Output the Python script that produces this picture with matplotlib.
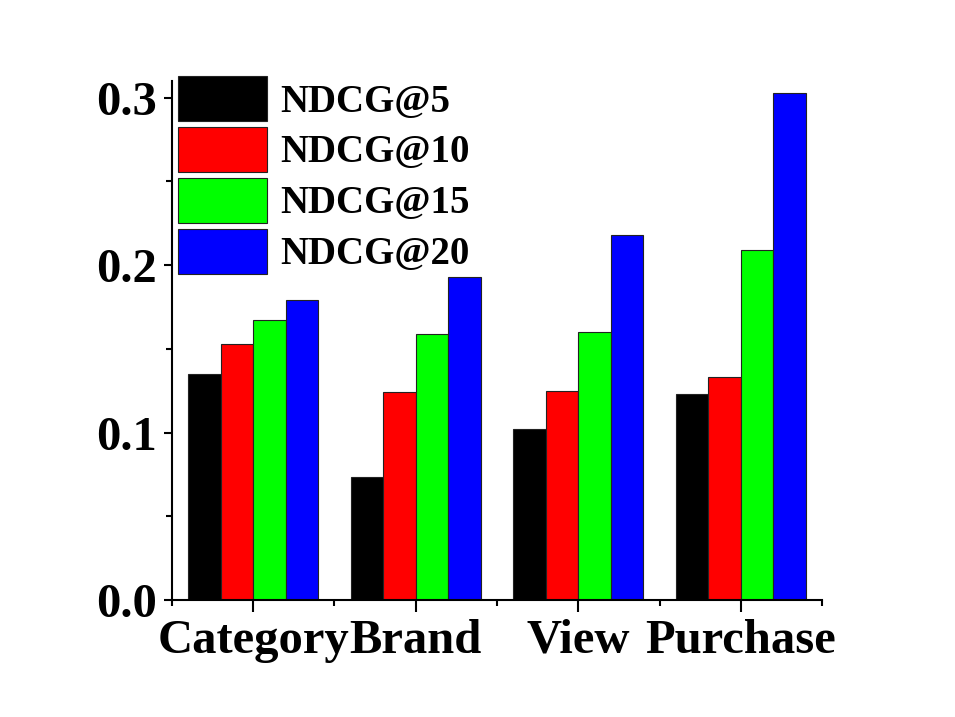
import matplotlib
matplotlib.use("Agg")
import matplotlib.pyplot as plt
from matplotlib.ticker import MultipleLocator, FixedLocator, FormatStrFormatter
import numpy as np

categories = ["Category", "Brand", "View", "Purchase"]
series_names = ["NDCG@5", "NDCG@10", "NDCG@15", "NDCG@20"]
ndcg5 = [0.135, 0.0735, 0.102, 0.123]
ndcg10 = [0.153, 0.124, 0.125, 0.133]
ndcg15 = [0.167, 0.159, 0.160, 0.209]
ndcg20 = [0.179, 0.193, 0.218, 0.303]
colors = ["#000000", "#ff0000", "#00ff00", "#0000ff"]

plt.rcParams['font.family'] = ['Liberation Serif', 'DejaVu Serif']
plt.rcParams['font.weight'] = 'bold'

fig = plt.figure(figsize=(9.55, 7.17), dpi=100)
ax = fig.add_axes([0.180, 0.163, 0.681, 0.724])

x = np.arange(len(categories))
w = 0.2
allser = [ndcg5, ndcg10, ndcg15, ndcg20]
for i, (vals, c, name) in enumerate(zip(allser, colors, series_names)):
    ax.bar(x + (i - 1.5) * w, vals, width=w, color=c, edgecolor="#222222",
           linewidth=0.8, label=name)

ax.set_xlim(-0.5, 3.5)
ax.set_ylim(0, 0.31)
ax.spines['top'].set_visible(False)
ax.spines['right'].set_visible(False)
for s in ['left', 'bottom']:
    ax.spines[s].set_linewidth(1.5)

ax.set_xticks(x)
ax.set_xticklabels(categories, fontsize=35, fontweight='bold')
ax.xaxis.set_minor_locator(FixedLocator([-0.5, 0.5, 1.5, 2.5, 3.5]))
ax.set_yticks([0.0, 0.1, 0.2, 0.3])
ax.yaxis.set_major_formatter(FormatStrFormatter('%.1f'))
ax.yaxis.set_minor_locator(MultipleLocator(0.05))
for lab in ax.get_yticklabels():
    lab.set_fontsize(35)
    lab.set_fontweight('bold')

ax.tick_params(axis='both', which='major', direction='out', width=1.5)
ax.tick_params(axis='both', which='minor', direction='out', width=1.5)
ax.tick_params(axis='x', which='major', length=8.5, pad=5)
ax.tick_params(axis='x', which='minor', length=4)
ax.tick_params(axis='y', which='major', length=6, pad=5)
ax.tick_params(axis='y', which='minor', length=4)

ax.legend(loc='upper left', bbox_to_anchor=(178 / 955, 1 - 76 / 717),
          bbox_transform=fig.transFigure, frameon=False,
          prop={'family': 'Liberation Serif', 'weight': 'bold', 'size': 28},
          handlelength=2.3, handleheight=1.42, labelspacing=0.14,
          handletextpad=0.33, borderpad=0, borderaxespad=0)

fig.savefig("out.png", dpi=100)
